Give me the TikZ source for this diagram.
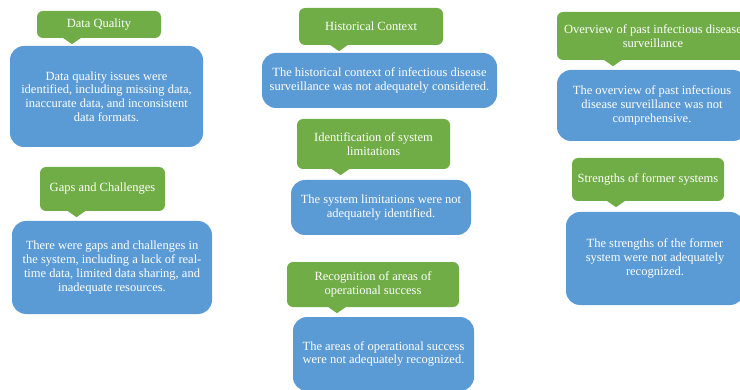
\documentclass[tikz,border=0pt]{standalone}
\usepackage{fontspec}
\setmainfont{Liberation Serif}
\usetikzlibrary{calc}
\definecolor{headgreen}{HTML}{70AD47}
\definecolor{bodyblue}{HTML}{5B9BD5}
\begin{document}
\begin{tikzpicture}[x=1pt,y=1pt,
  every node/.style={font=\fontsize{12.5}{13.8}\selectfont,text=white,align=center,inner sep=0pt},
  box size/.style 2 args={minimum width=#1,minimum height=#2},
  head/.style={fill=headgreen,rounded corners=6pt},
  body/.style={fill=bodyblue,rounded corners=14pt}]
\clip (0,0) rectangle (740,389);
% left column
\node[head,box size={124pt}{27pt}] (dq) at (99,364.5) {Data Quality};
\node[body,box size={193pt}{101pt}] (dqtext) at (106.5,292.5)
 {Data quality issues were\\ identified, including missing data,\\
 inaccurate data, and inconsistent\\ data formats.};
\node[head,box size={125pt}{44pt}] (gaps) at (102.5,200) {Gaps and Challenges};
\node[body,box size={200pt}{93pt}] (gapstext) at (112,121.5)
 {There were gaps and challenges in\\ the system, including a lack of real-\\
 time data, limited data sharing, and\\ inadequate resources.};
% middle column
\node[head,box size={144pt}{37pt}] (hist) at (371,362.5) {Historical Context};
\node[body,box size={235pt}{55pt}] (histtext) at (379.5,308.5)
 {The historical context of infectious disease\\ surveillance was not adequately considered.};
\node[head,box size={153pt}{50pt}] (limits) at (373.5,245)
 {Identification of system\\ limitations};
\node[body,box size={180pt}{55pt}] (limitstext) at (381,181.5)
 {The system limitations were not\\ adequately identified.};
\node[head,box size={172pt}{45pt}] (success) at (373,104.5)
 {Recognition of areas of\\ operational success};
\node[body,box size={181pt}{74pt}] (successtext) at (383.5,35)
 {The areas of operational success\\ were not adequately recognized.};
% right column
\node[head,box size={192pt}{48pt}] (overview) at (653,353)
 {Overview of past infectious disease\\ surveillance};
\node[body,box size={190pt}{71pt}] (overviewtext) at (652,283.5)
 {The overview of past infectious\\ disease surveillance was not\\ comprehensive.};
\node[head,box size={152pt}{43pt}] (strengths) at (648,209.5) {Strengths of former systems};
\node[body,box size={178pt}{93pt}] (strengthstext) at (655,130.5)
 {The strengths of the former\\ system were not adequately\\ recognized.};
% pointers under the headings
\foreach \n/\dx in {dq/-27,gaps/-26,hist/-32,limits/-33,success/-36,overview/-40,strengths/-32}
 \fill[headgreen] ($(\n.south)+(\dx-10,1)$) -- ($(\n.south)+(\dx,-6)$)
  -- ($(\n.south)+(\dx+10,1)$) -- cycle;
\end{tikzpicture}
\end{document}
